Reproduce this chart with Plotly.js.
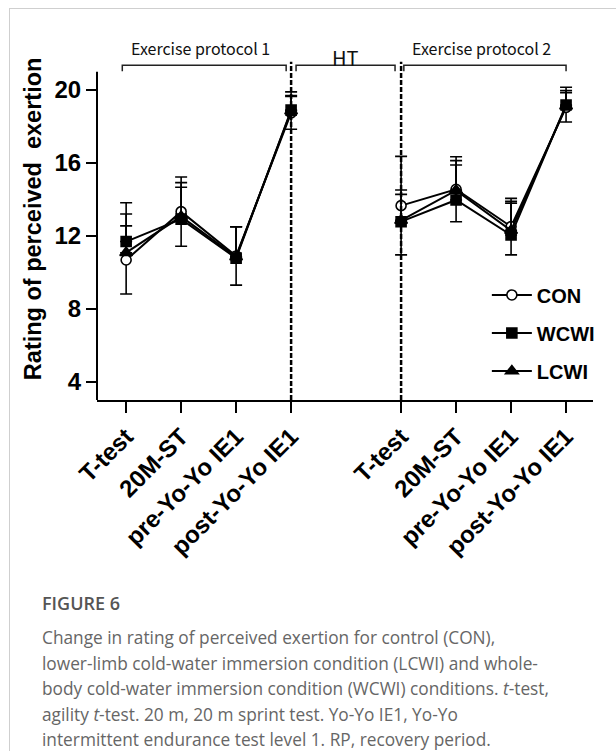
<!DOCTYPE html>
<html>
<head>
<meta charset="utf-8">
<script src="https://cdn.plot.ly/plotly-3.0.1.min.js"></script>
<style>
  html, body { margin: 0; padding: 0; background: #fff; }
  #wrap { position: relative; width: 616px; height: 751px; overflow: hidden; }
  #frame { position: absolute; left: 9px; top: 8px; right: -2px; bottom: -2px;
           border-left: 1px solid #cfcfcf; border-top: 1px solid #cfcfcf; }
  #chart { position: absolute; left: 0; top: 0; width: 616px; height: 560px; }
  #caption { position: absolute; left: 42px; top: 591px; font-family: "Open Sans", "Noto Sans", sans-serif;
             color: #666; white-space: nowrap; }
  #caption .fig { font-size: 18px; font-weight: 600; color: #555; line-height: 24px; margin-bottom: 10px; }
  #caption .txt { font-size: 17.3px; line-height: 25.5px; }
</style>
</head>
<body>
<div id="wrap">
  <div id="frame"></div>
  <div id="chart"></div>
  <div id="caption">
    <div class="fig">FIGURE 6</div>
    <div class="txt">Change in rating of perceived exertion for control (CON),<br>lower-limb cold-water immersion condition (LCWI) and whole-<br>body cold-water immersion condition (WCWI) conditions. <i>t</i>-test,<br>agility <i>t</i>-test. 20 m, 20 m sprint test. Yo-Yo IE1, Yo-Yo<br>intermittent endurance test level 1. RP, recovery period.</div>
  </div>
</div>
<script>
// ---- data ----
const categories = ['T-test', '20M-ST', 'pre-Yo-Yo IE1', 'post-Yo-Yo IE1',
                    'T-test', '20M-ST', 'pre-Yo-Yo IE1', 'post-Yo-Yo IE1'];
const conMean  = [10.68, 13.33, 10.90, 18.75, 13.66, 14.56, 12.51, 19.05];
const conSD    = [1.87, 1.90, 1.60, 0.90, 2.70, 1.78, 1.55, 0.80];
const wcwiMean = [11.69, 12.92, 10.78, 18.90, 12.78, 13.97, 12.05, 19.18];
const wcwiSD   = [2.13, 1.75, 1.72, 1.00, 1.50, 1.92, 1.75, 0.97];
const lcwiMean = [11.08, 13.06, 10.85, 18.85, 12.85, 14.50, 12.30, 19.12];
const lcwiSD   = [2.12, 1.86, 1.65, 0.85, 1.67, 1.63, 1.60, 0.85];
const yTicks   = [4, 8, 12, 16, 20];

// two protocols separated by one empty slot (HT)
const pos = categories.map((c, i) => i < 4 ? i : i + 1);
function withGap(arr, fill) {
  return arr.slice(0, 4).concat([fill]).concat(arr.slice(4));
}
const xs = withGap(pos, 4);

function trace(name, mean, sd, symbol, fill, both, rank) {
  return {
    type: 'scatter', mode: 'lines+markers', name: name,
    x: xs, y: withGap(mean, null), connectgaps: false,
    line: { color: '#000', width: 2 },
    marker: { symbol: symbol, size: symbol === 'triangle-up' ? 11 : 10, color: fill,
              line: { color: '#000', width: 1.6 } },
    error_y: { type: 'data', symmetric: false,
               array: withGap(sd, null),
               arrayminus: withGap(both ? sd : sd.map(() => 0), null),
               color: '#000', thickness: 1.6, width: 6 },
    cliponaxis: false,
    legendgroup: name, legendrank: rank
  };
}

const data = [
  trace('CON', conMean, conSD, 'circle', '#fff', true, 1),
  trace('LCWI', lcwiMean, lcwiSD, 'triangle-up', '#000', false, 3),
  trace('WCWI', wcwiMean, wcwiSD, 'square', '#000', false, 2)
];

const lblFont = { family: '"Noto Sans CJK SC", "Noto Sans", sans-serif', size: 16, color: '#111' };
const shapes = [];
// y axis line (stops at 21)
shapes.push({ type: 'line', xref: 'paper', yref: 'y', x0: 0, x1: 0, y0: 3, y1: 21,
              line: { color: '#000', width: 2 } });
// dashed separators
[3, 5].forEach(v => shapes.push({ type: 'line', xref: 'x', yref: 'y', x0: v, x1: v, y0: 3, y1: 21.55,
              line: { color: '#000', width: 2.5, dash: '5px,2px' } }));
// brackets
[[-0.07, 2.91], [3.09, 4.89], [5.05, 8.0]].forEach(b => shapes.push({
  type: 'path', xref: 'x', yref: 'y',
  path: `M${b[0]},21.03 L${b[0]},21.36 L${b[1]},21.36 L${b[1]},21.03`,
  line: { color: '#222', width: 1.5 } }));

const annotations = [
  { text: 'Exercise protocol 1', x: 1.36, y: 22.29, xref: 'x', yref: 'y', showarrow: false, font: lblFont },
  { text: 'HT', x: 3.98, y: 21.8, xref: 'x', yref: 'y', showarrow: false,
    font: Object.assign({}, lblFont, { size: 20 }) },
  { text: 'Exercise protocol 2', x: 6.47, y: 22.29, xref: 'x', yref: 'y', showarrow: false, font: lblFont },
  { text: 'Rating of perceived\u00a0\u00a0exertion', xref: 'paper', yref: 'paper', x: -0.129, y: 0.501,
    xanchor: 'center', yanchor: 'middle', textangle: -90, showarrow: false,
    font: { family: '"Liberation Sans", Arial, sans-serif', size: 23.5, weight: 700, color: '#000' } }
];

const tickFont = { family: '"Liberation Sans", Arial, sans-serif', size: 24, weight: 700, color: '#000' };

const layout = {
  width: 616, height: 560,
  margin: { l: 97, r: 23, t: 39, b: 160, autoexpand: false },
  paper_bgcolor: 'rgba(0,0,0,0)', plot_bgcolor: 'rgba(0,0,0,0)',
  showlegend: true,
  legend: { x: 0.786, y: 0.345, xanchor: 'left', yanchor: 'top', tracegroupgap: 9, itemwidth: 40,
            font: { family: '"Liberation Sans", Arial, sans-serif', size: 20, weight: 700, color: '#000' },
            bgcolor: 'rgba(0,0,0,0)' },
  xaxis: { range: [-0.53, 8.49], tickmode: 'array', tickvals: pos, ticktext: categories,
           tickangle: -45, ticks: 'outside', ticklen: 11, tickwidth: 2, tickcolor: '#000',
           showline: true, linecolor: '#000', linewidth: 2, showgrid: false, zeroline: false,
           tickfont: tickFont, automargin: false },
  yaxis: { range: [3, 22.8], tickmode: 'array', tickvals: yTicks, ticks: 'outside', ticklen: 10,
           tickwidth: 2, tickcolor: '#000', showline: false, showgrid: false, zeroline: false,
           tickfont: tickFont, automargin: false },
  shapes: shapes, annotations: annotations
};

Plotly.newPlot('chart', data, layout, { staticPlot: true, displayModeBar: false });
</script>
</body>
</html>
